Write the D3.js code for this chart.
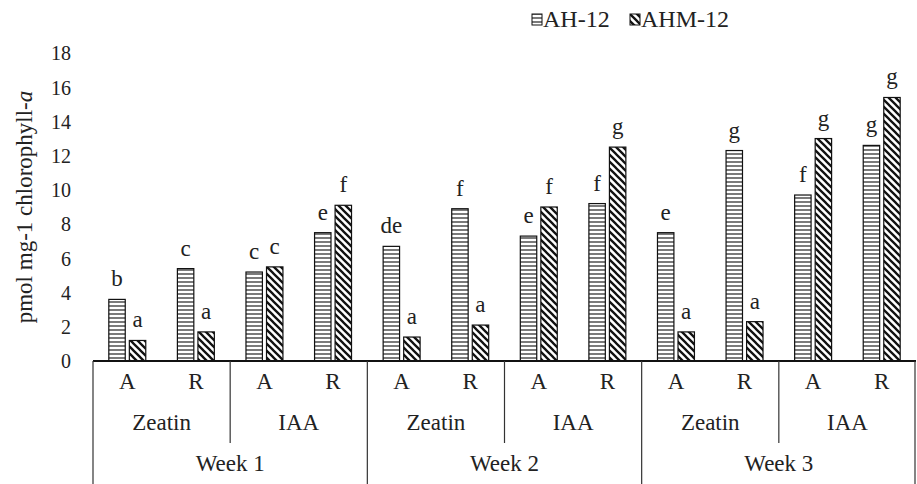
<!DOCTYPE html>
<html><head><meta charset="utf-8">
<script src="https://cdn.jsdelivr.net/npm/d3@7"></script>
<style>body{margin:0;background:#fff}svg{display:block}</style>
</head><body><svg id="c" width="917" height="484"></svg>
<script>
const weeks = ["Week 1","Week 2","Week 3"];
const hormones = ["Zeatin","IAA"];
const tissues = ["A","R"];
const series = ["AH-12","AHM-12"];
const valuesAH  = [3.6,5.4,5.2,7.5, 6.7,8.9,7.3,9.2, 7.5,12.3,9.7,12.6];
const valuesAHM = [1.2,1.7,5.5,9.1, 1.4,2.1,9.0,12.5, 1.7,2.3,13.0,15.4];
const lettersAH  = ["b","c","c","e", "de","f","e","f", "e","g","f","g"];
const lettersAHM = ["a","a","c","f", "a","a","f","g", "a","a","g","g"];
const yTicks = [0,2,4,6,8,10,12,14,16,18];

const FONT = '"Times New Roman", "Liberation Serif", Tinos, "DejaVu Serif", serif';
const FS = 23;
const svg = d3.select("#c");
const L = 93, R = 916, Y0 = 361, Ytop = 53, B = 484;

const groups = [];
weeks.forEach((w,wi)=>hormones.forEach((h,hi)=>tissues.forEach((t,ti)=>{
  const i = groups.length;
  groups.push({key:w+"|"+h+"|"+t, week:w, hormone:h, tissue:t, ah:valuesAH[i], ahm:valuesAHM[i], lah:lettersAH[i], lahm:lettersAHM[i]});
})));

const x0 = d3.scaleBand().domain(groups.map(d=>d.key)).range([L,R]).padding(0);
const x1 = d3.scaleBand().domain(series).range([0,x0.bandwidth()]).paddingInner(0.2).paddingOuter(0.77);
const y = d3.scaleLinear().domain([0,18]).range([Y0,Ytop]);

function txt(sel, fs){ return sel.attr("font-family",FONT).attr("font-size",fs||FS).attr("fill","#222"); }

const defs = svg.append("defs");
const ph = defs.append("pattern").attr("id","ph").attr("patternUnits","userSpaceOnUse").attr("width",8).attr("height",4);
ph.append("rect").attr("width",8).attr("height",4).attr("fill","#fff");
ph.append("line").attr("x1",0).attr("x2",8).attr("y1",2).attr("y2",2).attr("stroke","#222").attr("stroke-width",1.2);
const pd = defs.append("pattern").attr("id","pd").attr("patternUnits","userSpaceOnUse").attr("width",7).attr("height",7);
pd.append("rect").attr("width",7).attr("height",7).attr("fill","#fff");
pd.append("path").attr("d","M-1,-1L8,8M-1,6L1,8M6,-1L8,1").attr("stroke","#111").attr("stroke-width",2.3);

// y axis labels
const yAxis = d3.axisLeft(y).tickValues(yTicks).tickSize(0).tickPadding(0);
const ga = svg.append("g").attr("transform","translate(71,0)").call(yAxis);
ga.attr("font-family",FONT).attr("font-size",20);
ga.select(".domain").remove();
ga.selectAll("text").attr("fill","#222").attr("dy","0.34em");

txt(svg.append("text"),23).attr("transform","translate(32,207) rotate(-90)")
  .attr("text-anchor","middle")
  .html('pmol mg-1 chlorophyll-<tspan font-style="italic">a</tspan>');

// bars
const g = svg.append("g");
const fills = {"AH-12":"url(#ph)","AHM-12":"url(#pd)"};
groups.forEach(d=>{
  [["AH-12",d.ah,d.lah],["AHM-12",d.ahm,d.lahm]].forEach(([s,v,lab])=>{
    const bx = x0(d.key)+x1(s);
    g.append("rect").attr("x",bx).attr("y",y(v)).attr("width",x1.bandwidth()).attr("height",Y0-y(v))
      .attr("fill",fills[s]).attr("stroke","#111").attr("stroke-width",1.2);
    txt(g.append("text")).attr("x",bx+x1.bandwidth()/2).attr("y",y(v)-13).attr("text-anchor","middle").text(lab);
  });
});

// multi-level category axis
const ax = svg.append("g");
const lineC = "#333";
ax.append("line").attr("x1",L).attr("x2",R).attr("y1",Y0).attr("y2",Y0).attr("stroke","#111").attr("stroke-width",2);
groups.forEach(d=>{
  txt(ax.append("text")).attr("x",x0(d.key)+x0.bandwidth()/2).attr("y",389).attr("text-anchor","middle").text(d.tissue);
});
const hw = x0.bandwidth()*2, ww = x0.bandwidth()*4;
weeks.forEach((w,wi)=>{
  hormones.forEach((h,hi)=>{
    const hx = L + wi*ww + hi*hw;
    txt(ax.append("text")).attr("x",hx+hw/2).attr("y",430).attr("text-anchor","middle").text(h);
  });
  ax.append("line").attr("x1",L+wi*ww+hw).attr("x2",L+wi*ww+hw).attr("y1",Y0).attr("y2",443).attr("stroke",lineC).attr("stroke-width",1.2);
  txt(ax.append("text")).attr("x",L+wi*ww+ww/2).attr("y",471).attr("text-anchor","middle").text(w);
});
for(let k=0;k<=weeks.length;k++){
  const xx = L + k*ww - (k===weeks.length?1:0);
  ax.append("line").attr("x1",xx).attr("x2",xx).attr("y1",Y0).attr("y2",B).attr("stroke",lineC).attr("stroke-width",1.2);
}

// legend
const leg = svg.append("g");
const legItems = [{s:"AH-12",x:532},{s:"AHM-12",x:630}];
legItems.forEach(it=>{
  leg.append("rect").attr("x",it.x).attr("y",14).attr("width",10).attr("height",11).attr("fill",fills[it.s]).attr("stroke","#111").attr("stroke-width",1);
  txt(leg.append("text"),24).attr("x",it.x+11).attr("y",27).text(it.s);
});
</script></body></html>
